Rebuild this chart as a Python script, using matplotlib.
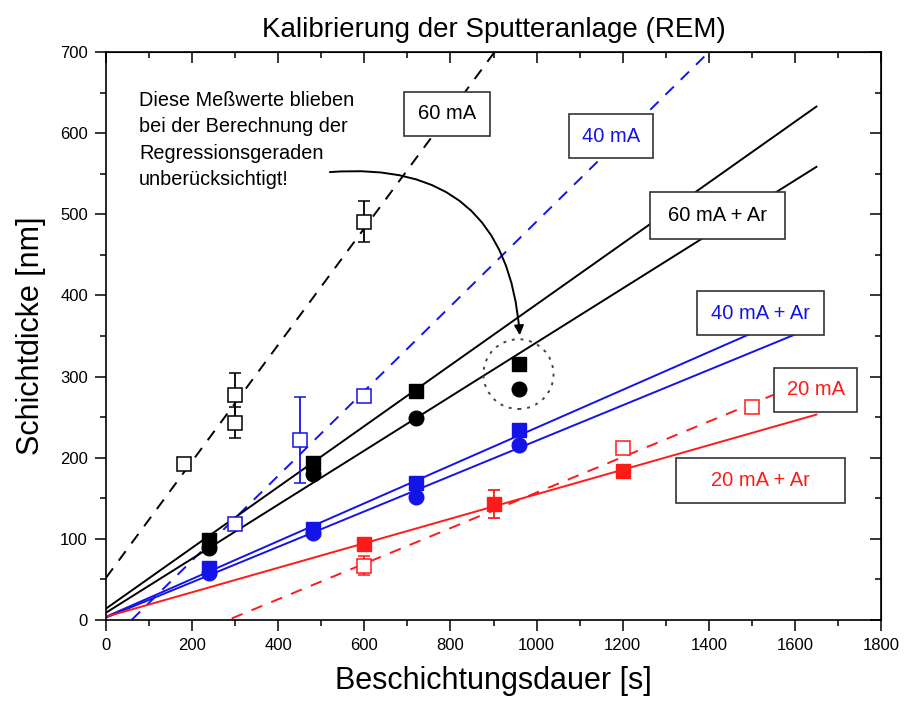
import numpy as np
import matplotlib
matplotlib.use('Agg')
from matplotlib import pyplot as plt
from matplotlib.patches import Ellipse, Rectangle
from matplotlib.ticker import MultipleLocator

plt.rcParams['font.family'] = ['Liberation Sans', 'DejaVu Sans']

# 60 mA (open black squares, dashed fit)
t_60 = [180, 300, 300, 600]
d_60 = [192, 277, 243, 491]
e_60 = [5, 27, 19, 25]

# 40 mA (open blue squares, dashed fit)
t_40 = [300, 450, 600]
d_40 = [118, 222, 276]
e_40 = [5, 53, 5]

# 20 mA (open red squares, dashed fit)
t_20 = [600, 1200, 1500]
d_20 = [67, 212, 263]
e_20 = [12, 7, 7]

# + Ar series (filled markers)
t_ar = [240, 480, 720, 960]
d_60ar_sq = [99, 193, 282, 316]
d_60ar_ci = [89, 180, 249, 285]
d_40ar_sq = [64, 112, 169, 234]
d_40ar_ci = [58, 107, 152, 216]

t_20ar = [600, 900, 1200]
d_20ar = [94, 143, 184]
e_20ar = [0, 17, 0]

# regression lines: (slope, intercept, x_start, x_end)
fit_60 = (0.718, 52, 0, 1000)
fit_40 = (0.522, -31, 60, 1450)
fit_20 = (0.219, -62, 292, 1550)
fit_60ar_sq = (0.375, 14, 0, 1650)
fit_60ar_ci = (0.333, 9, 0, 1650)
fit_40ar_sq = (0.233, 4, 0, 1650)
fit_40ar_ci = (0.218, 3, 0, 1650)
fit_20ar = (0.151, 4, 0, 1650)

BLACK = 'black'
BLUE = '#1414e6'
RED = '#ff1a1a'


def fit_line(ax, fit, color, ls):
    k, d, x0, x1 = fit
    x = np.array([x0, x1])
    ax.plot(x, k * x + d, color=color, ls=ls, lw=1.4, zorder=2,
            dashes=(6, 5) if ls == '--' else (None, None))


fig = plt.figure(figsize=(9.06, 7.04), dpi=100)
ax = fig.add_axes([106 / 906, 1 - 620 / 704, 775 / 906, 568 / 704])
ax.set_xlim(0, 1800)
ax.set_ylim(0, 700)

fit_line(ax, fit_60, BLACK, '--')
fit_line(ax, fit_40, BLUE, '--')
fit_line(ax, fit_20, RED, '--')
fit_line(ax, fit_60ar_sq, BLACK, '-')
fit_line(ax, fit_60ar_ci, BLACK, '-')
fit_line(ax, fit_40ar_sq, BLUE, '-')
fit_line(ax, fit_40ar_ci, BLUE, '-')
fit_line(ax, fit_20ar, RED, '-')

open_kw = dict(fmt='s', ms=10, mfc='white', mew=1.1, capsize=4.5, elinewidth=1.3, capthick=1.3, zorder=4)
ax.errorbar(t_60, d_60, yerr=e_60, color=BLACK, mec=BLACK, **open_kw)
ax.errorbar(t_40, d_40, yerr=e_40, color=BLUE, mec=BLUE, **open_kw)
ax.errorbar(t_20, d_20, yerr=e_20, color=RED, mec=RED, **open_kw)

ax.plot(t_ar, d_60ar_sq, 's', color=BLACK, ms=10.5, zorder=5)
ax.plot(t_ar, d_60ar_ci, 'o', color=BLACK, ms=10.5, zorder=5)
ax.plot(t_ar, d_40ar_sq, 's', color=BLUE, ms=10.5, zorder=5)
ax.plot(t_ar, d_40ar_ci, 'o', color=BLUE, ms=10.5, zorder=5)
ax.errorbar(t_20ar, d_20ar, yerr=e_20ar, fmt='s', color=RED, ms=10.5,
            capsize=4.5, elinewidth=1.3, capthick=1.3, zorder=5)

# dotted circle around the excluded points
ax.add_patch(Ellipse((958, 303), 163, 86, fill=False, ls=(0, (1.5, 3)), lw=1.4,
                     edgecolor='#444444', zorder=3))

# label boxes: text, centre (data), size (pixels), colour
labels = [
    ('60 mA', (792, 624), (86, 44), BLACK),
    ('40 mA', (1173, 596), (84, 44), BLUE),
    ('60 mA + Ar', (1420, 498), (135, 47), BLACK),
    ('40 mA + Ar', (1519, 378), (127, 44), BLUE),
    ('20 mA', (1648, 284), (83, 44), RED),
    ('20 mA + Ar', (1520, 172), (169, 45), RED),
]
px_x = 775 / 1800
px_y = 568 / 700
for txt, (cx, cy), (w, h), col in labels:
    wd, hd = w / px_x, h / px_y
    ax.add_patch(Rectangle((cx - wd / 2, cy - hd / 2), wd, hd, facecolor='white',
                           edgecolor='#333333', lw=1.2, zorder=6))
    ax.text(cx, cy, txt, color=col, fontsize=14.5, ha='center', va='center', zorder=7)

ax.text(77, 652, 'Diese Meßwerte blieben\nbei der Berechnung der\nRegressionsgeraden\nunberücksichtigt!',
        fontsize=14.3, ha='left', va='top', linespacing=1.5, zorder=7)
ax.annotate('', xy=(961, 351), xytext=(520, 552),
            arrowprops=dict(arrowstyle='-|>', color='black', lw=1.4, mutation_scale=14,
                            connectionstyle='arc3,rad=-0.5', shrinkA=0, shrinkB=0), zorder=7)

ax.xaxis.set_major_locator(MultipleLocator(200))
ax.xaxis.set_minor_locator(MultipleLocator(100))
ax.yaxis.set_major_locator(MultipleLocator(100))
ax.yaxis.set_minor_locator(MultipleLocator(50))
ax.tick_params(which='major', direction='out', length=8, width=1.1, labelsize=12, pad=5)
ax.tick_params(which='minor', direction='out', length=4, width=1.1)
for s in ax.spines.values():
    s.set_linewidth(1.2)

top = ax.secondary_xaxis('top')
top.xaxis.set_major_locator(MultipleLocator(200))
top.xaxis.set_minor_locator(MultipleLocator(100))
top.tick_params(which='major', direction='in', length=8, width=1.1, labeltop=False)
top.tick_params(which='minor', direction='in', length=4, width=1.1)
right = ax.secondary_yaxis('right')
right.yaxis.set_major_locator(MultipleLocator(100))
right.yaxis.set_minor_locator(MultipleLocator(50))
right.tick_params(which='major', direction='in', length=8, width=1.1, labelright=False)
right.tick_params(which='minor', direction='in', length=4, width=1.1)

ax.set_xlabel('Beschichtungsdauer [s]', fontsize=22, labelpad=9)
ax.set_ylabel('Schichtdicke [nm]', fontsize=22, labelpad=10)
ax.set_title('Kalibrierung der Sputteranlage (REM)', fontsize=20, pad=11)

fig.savefig('out.png', dpi=100)
